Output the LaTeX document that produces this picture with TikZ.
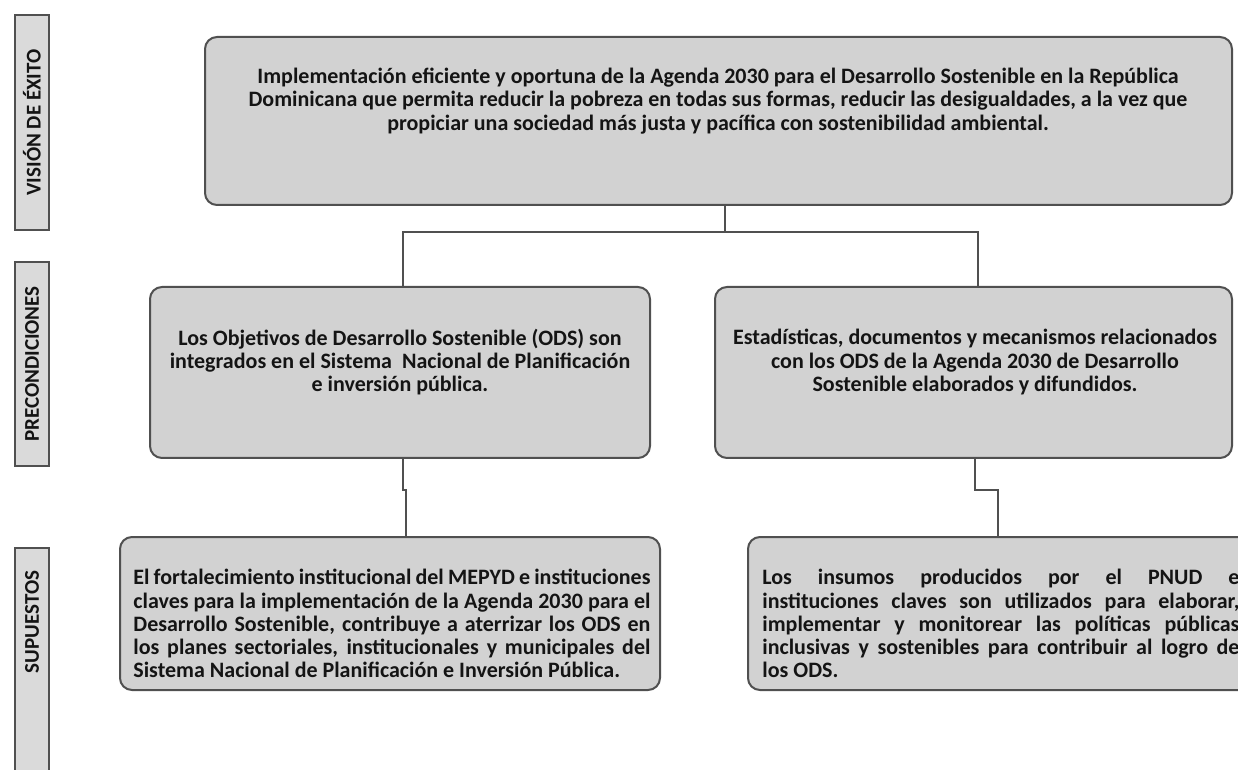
\documentclass[tikz,border=0pt]{standalone}
\usepackage{fontspec}
\setmainfont{Carlito}
\usetikzlibrary{fit}
\definecolor{boxgray}{HTML}{D2D2D2}
\definecolor{labelgray}{HTML}{DADADA}
\definecolor{edgegray}{HTML}{505050}
\definecolor{inkdark}{HTML}{141414}

\begin{document}
\begin{tikzpicture}[x=0.5pt,y=-0.5pt,
    box/.style={draw=edgegray, line width=1pt, fill=boxgray, rounded corners=6pt, inner sep=0pt},
    side/.style={draw=edgegray, line width=1pt, fill=labelgray, inner sep=0pt},
    sidetext/.style={rotate=90, font=\fontsize{10.5}{12}\selectfont\bfseries, text=inkdark},
    txt/.style={font=\fontsize{11}{11.6}\selectfont\bfseries, text=inkdark, inner sep=0pt},
    link/.style={draw=edgegray, line width=0.8pt}]
\useasboundingbox (0,0) rectangle (1238,770);
\clip (0,0) rectangle (1238,770);

% side labels
\node[side, fit={(15,15) (49,230)}] (lblvision) {};
\node[sidetext] at (lblvision.center) {VISIÓN DE ÉXITO};
\node[side, fit={(15,262) (49,466)}] (lblpre) {};
\node[sidetext] at (lblpre.center) {PRECONDICIONES};
\node[side, fit={(15,548) (49,790)}] (lblsup) {};
\node[sidetext] at (lblsup.center |- 0,622) {SUPUESTOS};

% vision
\node[box, fit={(205,37) (1232,205)}] (vision) {};
\node[txt, align=center] (visiontxt) at (718,101) {Implementación eficiente y oportuna de la Agenda 2030 para el Desarrollo Sostenible en la República\\
    Dominicana que permita reducir la pobreza en todas sus formas, reducir las desigualdades, a la vez que\\
    propiciar una sociedad más justa y pacífica con sostenibilidad ambiental.};

% precondiciones
\node[box, fit={(150,287) (650,458)}] (preL) {};
\node[txt, align=center] (preLtxt) at (400,362) {Los Objetivos de Desarrollo Sostenible (ODS) son\\
    integrados en el Sistema\ \ Nacional de Planificación\\
    e inversión pública.};
\node[box, fit={(715,287) (1232,458)}] (preR) {};
\node[txt, align=center] (preRtxt) at (975,362) {Estadísticas, documentos y mecanismos relacionados\\
    con los ODS de la Agenda 2030 de Desarrollo\\
    Sostenible elaborados y difundidos.};

% supuestos
\node[box, fit={(120,537) (660,690)}] (supL) {};
\node[txt, text width=258.5pt, align=justify, anchor=north west] (supLtxt) at (133,569) {El fortalecimiento institucional del MEPYD e instituciones\linebreak
    claves para la implementación de la Agenda 2030 para el\linebreak
    Desarrollo Sostenible, contribuye a aterrizar los ODS en\linebreak
    los planes sectoriales, institucionales y municipales del\linebreak
    Sistema Nacional de Planificación e Inversión Pública.};
\node[box, fit={(748,537) (1256,690)}] (supR) {};
\node[txt, text width=238.5pt, align=justify, anchor=north west] (supRtxt) at (762,569) {Los insumos producidos por el PNUD e\linebreak
    instituciones claves son utilizados para elaborar,\linebreak
    implementar y monitorear las políticas públicas\linebreak
    inclusivas y sostenibles para contribuir al logro de\linebreak
    los ODS.};

% connectors
\coordinate (split) at (725,232);
\coordinate (jL) at (403,232);
\coordinate (jR) at (978,232);
\coordinate (kL) at (403,490);
\coordinate (kL2) at (406,490);
\coordinate (kR) at (975,490);
\coordinate (kR2) at (998,490);
\draw[link] (vision.south -| split) -- (split);
\draw[link] (preL.north -| jL) -- (jL) -- (jR) -- (preR.north -| jR);
\draw[link] (preL.south -| kL) -- (kL) -- (kL2) -- (supL.north -| kL2);
\draw[link] (preR.south -| kR) -- (kR) -- (kR2) -- (supR.north -| kR2);
\end{tikzpicture}
\end{document}
